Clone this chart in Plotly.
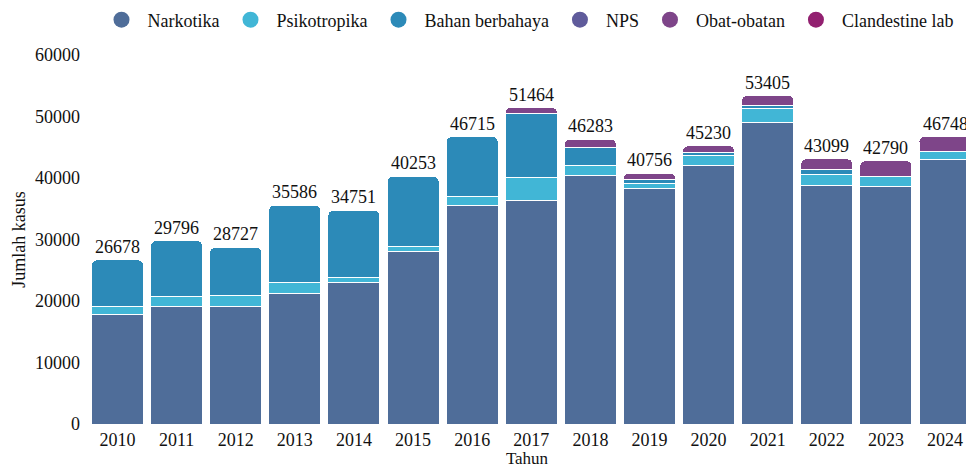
import plotly.graph_objects as go

years = ["2010", "2011", "2012", "2013", "2014", "2015", "2016", "2017",
         "2018", "2019", "2020", "2021", "2022", "2023", "2024"]
totals = [26678, 29796, 28727, 35586, 34751, 40253, 46715, 51464,
          46283, 40756, 45230, 53405, 43099, 42790, 46748]

narkotika = [17840, 19070, 19100, 21250, 23040, 28020, 35450, 36420,
             40440, 38260, 42000, 49100, 38860, 38650, 43090]
psikotropika = [1230, 1690, 1760, 1680, 860, 870, 1570, 3740,
                1670, 880, 1630, 2230, 1790, 1560, 1140]
bahan = [7608, 9036, 7867, 12656, 10851, 11363, 9695, 10300,
         2880, 580, 550, 490, 760, 0, 0]
nps = [0, 0, 0, 0, 0, 0, 0, 20, 40, 40, 30, 40, 30, 30, 20]
obat = [0, 0, 0, 0, 0, 0, 0, 984, 1253, 996, 1020, 1545, 1659, 2550, 2498]
clandestine = [0, 0, 0, 0, 0, 0, 0, 0, 0, 0, 0, 0, 0, 0, 0]

series = [
    ("Narkotika", narkotika, "#4f6d99"),
    ("Psikotropika", psikotropika, "#41b6d6"),
    ("Bahan berbahaya", bahan, "#2c8ab8"),
    ("NPS", nps, "#5f5b9b"),
    ("Obat-obatan", obat, "#7e4589"),
    ("Clandestine lab", clandestine, "#922070"),
]

FONT = "Liberation Serif"

fig = go.Figure()
for name, vals, col in series:
    fig.add_trace(go.Bar(
        x=years, y=[v if v else None for v in vals], name=name,
        marker=dict(color=col, line=dict(color="white", width=1)),
        showlegend=False,
    ))
for name, vals, col in series:
    fig.add_trace(go.Scatter(
        x=[None], y=[None], mode="markers", name=name,
        marker=dict(color=col, size=18, symbol="circle"),
        showlegend=True,
    ))

for i, t in enumerate(totals):
    fig.add_annotation(x=i, y=t, text=str(t), showarrow=False,
                       yanchor="bottom", yshift=1,
                       font=dict(family=FONT, size=18, color="#111"))

fig.update_layout(
    width=966, height=468,
    barmode="stack", bargap=0.12, barcornerradius=5,
    plot_bgcolor="white", paper_bgcolor="white",
    margin=dict(l=88, r=0, t=55, b=44),
    font=dict(family=FONT, size=18, color="#111"),
    legend=dict(orientation="h", x=0.5, xanchor="center", y=1.095, yanchor="middle",
                traceorder="normal", itemwidth=42, font=dict(family=FONT, size=18)),
    xaxis=dict(type="category", range=[-0.5, 14.355], showgrid=False,
               ticks="", ticklabelstandoff=3,
               title=dict(text="Tahun", font=dict(size=17), standoff=3),
               tickfont=dict(size=18)),
    yaxis=dict(range=[0, 60000], dtick=10000, showgrid=False, zeroline=False,
               tickformat="d", ticklabelstandoff=7,
               title=dict(text="Jumlah kasus", font=dict(size=18), standoff=4),
               tickfont=dict(size=18)),
)

fig.write_html("out.html")
